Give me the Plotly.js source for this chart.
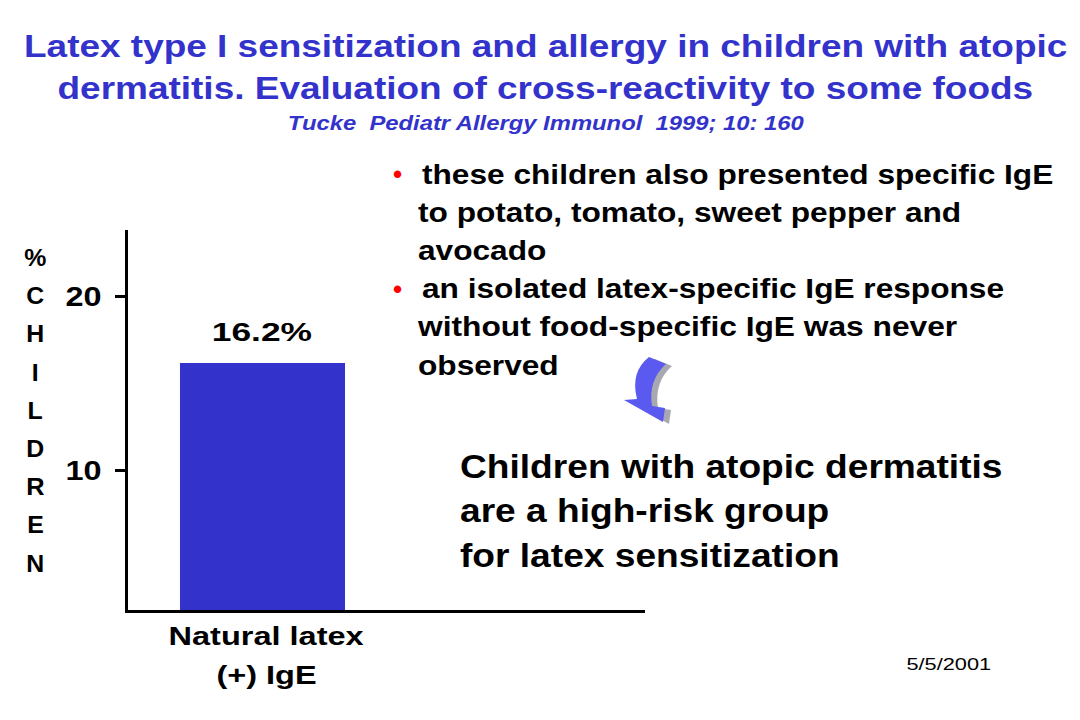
<!DOCTYPE html>
<html>
<head>
<meta charset="utf-8">
<script src="https://cdn.plot.ly/plotly-3.0.1.min.js"></script>
<style>html,body{margin:0;padding:0;background:#fff;}#chart{width:1080px;height:720px;}</style>
</head>
<body>
<div id="chart"></div>
<script>
// ---- data ----
const categories = ["Natural latex (+) IgE"];
const categoryLabelLines = ["Natural latex", "(+) IgE"];
const percentChildren = [16.2];
const yTickVals = [10, 20];
const yTickText = ["10", "20"];
const yAxisTitle = "%CHILDREN";
const titleLines = ["Latex type I sensitization and allergy in children with atopic", "dermatitis. Evaluation of cross-reactivity to some foods"];
const subtitle = "Tucke  Pediatr Allergy Immunol  1999; 10: 160";
const bulletLines = [
  {bullet: true, text: "these children also presented specific IgE"},
  {bullet: false, text: "to potato, tomato, sweet pepper and"},
  {bullet: false, text: "avocado"},
  {bullet: true, text: "an isolated latex-specific IgE response"},
  {bullet: false, text: "without food-specific IgE was never"},
  {bullet: false, text: "observed"}
];
const conclusionLines = ["Children with atopic dermatitis", "are a high-risk group", "for latex sensitization"];
const dateText = "5/5/2001";

// ---- layout geometry (pixels) ----
const W = 1080, H = 720;
const L = 128, R = 645, T = 230, B = 610;
const px2x = p => (p - L) / (R - L);
const px2y = p => (B - p) / (B - T);
const FONT = "Liberation Sans, Arial, Helvetica, sans-serif";
const BLUE = "#3333cc";

const annotations = [];
const stretch = []; // horizontal glyph stretch per annotation (the slide text is widened)
function addAnn(a, f) { annotations.push(a); stretch.push(f || 1); }

// title lines
titleLines.forEach((t, i) => {
  addAnn({xref: "paper", yref: "paper", x: px2x(545), y: px2y(46 + i * 42), xanchor: "center", yanchor: "middle",
    text: "<b>" + t + "</b>", showarrow: false, font: {family: FONT, size: 32, color: BLUE}}, 1.155);
});

// subtitle
addAnn({xref: "paper", yref: "paper", x: px2x(546), y: px2y(123), xanchor: "center", yanchor: "middle",
  text: "<b><i>" + subtitle + "</i></b>", showarrow: false, font: {family: FONT, size: 20, color: BLUE}}, 1.19);

// vertical y title letters
yAxisTitle.split("").forEach((ch, i) => {
  addAnn({xref: "paper", yref: "paper", x: px2x(35), y: px2y(258 + i * 38.2), xanchor: "center", yanchor: "middle",
    text: "<b>" + ch + "</b>", showarrow: false, font: {family: FONT, size: 23, color: "#000"}}, 1.08);
});

// category label lines
categoryLabelLines.forEach((t, i) => {
  addAnn({xref: "x", yref: "paper", x: categories[0], y: px2y(636 + i * 39), xanchor: "center", yanchor: "middle",
    xshift: 4, text: "<b>" + t + "</b>", showarrow: false, font: {family: FONT, size: 25, color: "#000"}}, 1.3);
});

// value label
percentChildren.forEach((v, i) => {
  addAnn({xref: "x", yref: "y", x: categories[i], y: v, xanchor: "center", yanchor: "middle", yshift: 31,
    text: "<b>" + v.toFixed(1) + "%</b>", showarrow: false, font: {family: FONT, size: 26, color: "#000"}}, 1.36);
});

// bullets
bulletLines.forEach((b, i) => {
  const py = 174 + i * 38.2;
  if (b.bullet) {
    addAnn({xref: "paper", yref: "paper", x: px2x(397), y: px2y(py), xanchor: "center", yanchor: "middle",
      text: "<b>•</b>", showarrow: false, font: {family: FONT, size: 26, color: "#ff0000"}}, 1);
  }
  addAnn({xref: "paper", yref: "paper", x: px2x(b.bullet ? 420 : 416), y: px2y(py), xanchor: "left", yanchor: "middle",
    text: "<b>" + b.text + "</b>", showarrow: false, font: {family: FONT, size: 28, color: "#000"}}, 1.13);
});

// conclusion
conclusionLines.forEach((t, i) => {
  addAnn({xref: "paper", yref: "paper", x: px2x(458), y: px2y(466 + i * 44.5), xanchor: "left", yanchor: "middle",
    text: "<b>" + t + "</b>", showarrow: false, font: {family: FONT, size: 33, color: "#000"}}, 1.125);
});

// date
addAnn({xref: "paper", yref: "paper", x: px2x(993), y: px2y(664), xanchor: "right", yanchor: "middle",
  text: dateText, showarrow: false, font: {family: FONT, size: 17, color: "#000"}}, 1.28);

// curved arrow (decoration), pixel path -> paper path
function pathFromPx(cmds, dx, dy) {
  return cmds.map(c => {
    const [op, ...nums] = c;
    const out = [];
    for (let k = 0; k < nums.length; k += 2) {
      out.push(px2x(nums[k] + dx).toFixed(4) + "," + px2y(nums[k + 1] + dy).toFixed(4));
    }
    return op + out.join(" ");
  }).join(" ") + " Z";
}
const arrowCmds = [
  ["M", 649, 357],
  ["L", 666, 364],
  ["Q", 648, 380, 652, 406],
  ["L", 665, 408],
  ["L", 663, 422],
  ["L", 624, 400],
  ["L", 637, 399],
  ["Q", 630, 372, 649, 357]
];
const shapes = [
  {type: "path", xref: "paper", yref: "paper", path: pathFromPx(arrowCmds, 6, 2), fillcolor: "#a8a8b0", line: {width: 0}},
  {type: "path", xref: "paper", yref: "paper", path: pathFromPx(arrowCmds, 0, 0), fillcolor: "#5a5af0", line: {width: 0}}
];

const trace = {
  type: "bar",
  x: categories,
  y: percentChildren,
  width: [1],
  marker: {color: BLUE, line: {width: 0}},
  hoverinfo: "none"
};

const layout = {
  width: W, height: H,
  margin: {l: L, r: W - R, t: T, b: H - B, pad: 0},
  paper_bgcolor: "#fff", plot_bgcolor: "#fff",
  showlegend: false,
  xaxis: {
    type: "category", range: [-0.815, 2.318], showticklabels: false, ticks: "",
    showline: true, linecolor: "#000", linewidth: 3, showgrid: false, zeroline: false, fixedrange: true
  },
  yaxis: {
    range: [2, 23.85], tickvals: yTickVals, ticktext: yTickText, ticks: "outside", ticklen: 10, tickwidth: 3, tickcolor: "#000",
    ticklabelstandoff: 8,
    tickfont: {family: FONT, size: 27, color: "#000", weight: "bold"},
    showline: true, linecolor: "#000", linewidth: 3, showgrid: false, zeroline: false, fixedrange: true
  },
  annotations: annotations,
  shapes: shapes
};

function stretchText(t, f, mode) {
  if (!t || f === 1) return;
  const bb = t.getBBox();
  const w = bb.width;
  const nw = w * f;
  let left = bb.x;
  if (mode === "right") left = bb.x + w - nw;
  else if (mode === "center") left = bb.x + w / 2 - nw / 2;
  t.setAttribute("text-anchor", "start");
  t.setAttribute("x", left);
  t.querySelectorAll("tspan[x]").forEach(s => s.setAttribute("x", left));
  t.setAttribute("textLength", nw);
  t.setAttribute("lengthAdjust", "spacingAndGlyphs");
}

Plotly.newPlot("chart", [trace], layout, {displayModeBar: false, staticPlot: true}).then(gd => {
  gd.querySelectorAll("g.annotation").forEach(g => {
    const i = +g.getAttribute("data-index");
    const a = annotations[i];
    stretchText(g.querySelector("text.annotation-text"), stretch[i], a.xanchor);
  });
  gd.querySelectorAll("g.ytick text").forEach(t => stretchText(t, 1.2, "right"));
});
</script>
</body>
</html>
